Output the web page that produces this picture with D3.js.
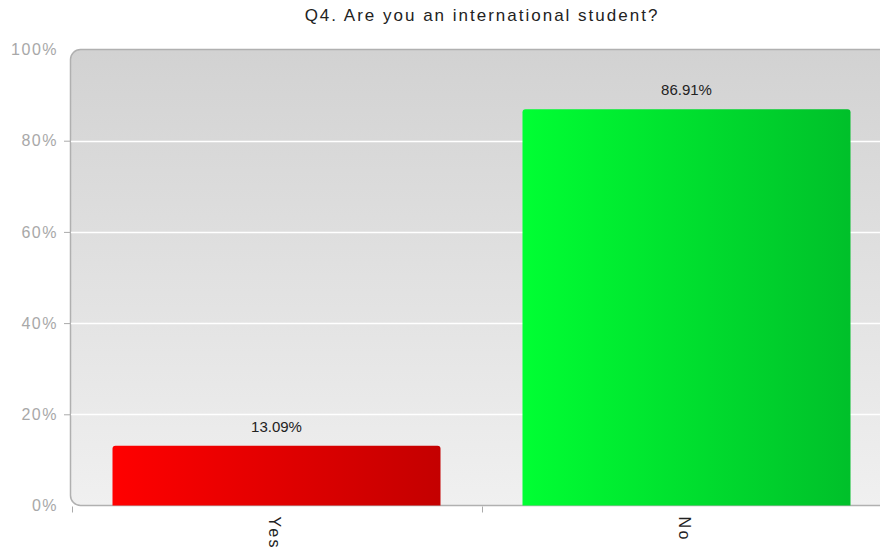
<!DOCTYPE html>
<html>
<head>
<meta charset="utf-8">
<script src="https://cdn.jsdelivr.net/npm/d3@7"></script>
<style>
  body { margin: 0; background: #fff; }
  svg { display: block; font-family: "Liberation Sans", Arial, sans-serif; }
</style>
</head>
<body>
<svg id="chart" width="880" height="556"></svg>
<script>
const title = "Q4. Are you an international student?";
const categories = ["Yes", "No"];
const values = [13.09, 86.91];
const barColors = [["#ff0000", "#c40000"], ["#00ff33", "#00c02a"]];
const yTicks = [0, 20, 40, 60, 80, 100];

(function () {
const svg = d3.select("#chart");
const pLeft = 70, pTop = 49.5, pBottom = 505.5, pRight = 892;

const x = d3.scaleBand().domain(categories).range([71.5, 891.5]).paddingInner(0.2).paddingOuter(0.1);
const y = d3.scaleLinear().domain([0, 100]).range([pBottom, pTop]);

const defs = svg.append("defs");
const bg = defs.append("linearGradient").attr("id", "bg").attr("x1", 0).attr("y1", 0).attr("x2", 0).attr("y2", 1);
bg.append("stop").attr("offset", "0%").attr("stop-color", "#d2d2d2");
bg.append("stop").attr("offset", "100%").attr("stop-color", "#f0f0f0");
categories.forEach((c, i) => {
  const g = defs.append("linearGradient").attr("id", "bar" + i).attr("x1", 0).attr("y1", 0).attr("x2", 1).attr("y2", 0);
  g.append("stop").attr("offset", "0%").attr("stop-color", barColors[i][0]);
  g.append("stop").attr("offset", "100%").attr("stop-color", barColors[i][1]);
});

// title
svg.append("text").attr("x", 482).attr("y", 21).attr("text-anchor", "middle")
  .attr("font-size", 17).attr("letter-spacing", 2).attr("fill", "#222").text(title);

// plot background
svg.append("rect").attr("x", pLeft + 0.5).attr("y", pTop).attr("width", pRight - pLeft + 20).attr("height", pBottom - pTop)
  .attr("rx", 10).attr("ry", 10).attr("fill", "url(#bg)").attr("stroke", "#b0b0b0").attr("stroke-width", 1.5);

// grid lines
svg.append("g").selectAll("line").data(yTicks.filter(t => t > 0 && t < 100)).join("line")
  .attr("x1", pLeft + 1).attr("x2", 880).attr("y1", d => Math.round(y(d)) + 0.5).attr("y2", d => Math.round(y(d)) + 0.5)
  .attr("stroke", "#ffffff").attr("stroke-width", 1.5);

// y axis
const yAxis = d3.axisLeft(y).tickValues(yTicks).tickFormat(d => d + "%").tickSize(6).tickPadding(6);
const ya = svg.append("g").attr("transform", `translate(${pLeft},0)`).call(yAxis);
ya.select(".domain").remove();
ya.selectAll(".tick line").attr("stroke", "#aaa").filter(d => d === 0 || d === 100).remove();
ya.selectAll(".tick text").attr("fill", "#a8a8a8").attr("font-size", 16).attr("letter-spacing", 1.5)
  .attr("font-family", "'Liberation Sans', Arial, sans-serif");

// bars
const r = 3;
svg.append("g").selectAll("path").data(categories).join("path")
  .attr("d", (c, i) => {
    const x0 = x(c), w = x.bandwidth(), y0 = y(values[i]), y1 = pBottom;
    return `M${x0},${y1}V${y0 + r}Q${x0},${y0} ${x0 + r},${y0}H${x0 + w - r}Q${x0 + w},${y0} ${x0 + w},${y0 + r}V${y1}Z`;
  })
  .attr("fill", (c, i) => `url(#bar${i})`);

// value labels
svg.append("g").selectAll("text").data(categories).join("text")
  .attr("x", c => x(c) + x.bandwidth() / 2).attr("y", (c, i) => y(values[i]) - 14)
  .attr("text-anchor", "middle").attr("font-size", 15).attr("fill", "#222")
  .text((c, i) => values[i].toFixed(2) + "%");

// x axis ticks at band boundaries
svg.append("g").selectAll("line").data(categories).join("line")
  .attr("x1", c => Math.round(x(c) - x.step() * 0.1) + 0.5).attr("x2", c => Math.round(x(c) - x.step() * 0.1) + 0.5)
  .attr("y1", pBottom + 1).attr("y2", pBottom + 7).attr("stroke", "#aaa");

// x labels
svg.append("g").selectAll("text").data(categories).join("text")
  .attr("transform", c => `translate(${x(c) + x.bandwidth() / 2 - 3},${pBottom + 11}) rotate(90)`)
  .attr("font-size", 16).attr("letter-spacing", 2.5).attr("fill", "#222").attr("dominant-baseline", "middle")
  .text(c => c);
})();
</script>
</body>
</html>
